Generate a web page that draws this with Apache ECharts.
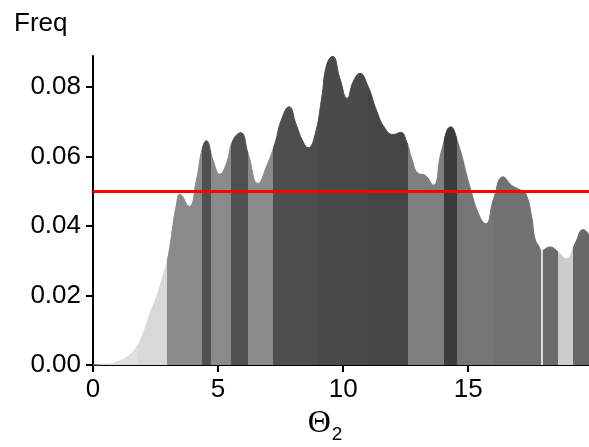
<!DOCTYPE html>
<html>
<head>
<meta charset="utf-8">
<script src="https://cdn.jsdelivr.net/npm/echarts@6/dist/echarts.min.js"></script>
<style>html,body{margin:0;padding:0;background:#fff}#c{width:589px;height:447px}</style>
</head>
<body>
<div id="c"></div>
<script>
// Density curve: theta values and frequencies
var theta = [0, 0.5, 0.9, 1.33, 1.73, 2.0, 2.27, 2.53, 2.8, 2.94, 3.07, 3.2, 3.33, 3.47, 3.84, 4.13, 4.37, 4.53, 4.8, 5.07, 5.33, 5.6, 5.91, 6.2, 6.6, 6.93, 7.27, 7.53, 7.84, 8.13, 8.4, 8.6, 8.87, 9.14, 9.34, 9.58, 9.87, 10.16, 10.4, 10.67, 11.0, 11.33, 11.67, 12.0, 12.3, 12.54, 12.74, 13.0, 13.27, 13.6, 13.94, 14.3, 14.6, 15.07, 15.47, 15.71, 16.0, 16.4, 16.73, 17.07, 17.3, 17.54, 17.67, 17.84, 17.93, 18.27, 18.53, 18.93, 19.27, 19.6, 19.83];
var freq  = [0, 0.0002, 0.0008, 0.0022, 0.0051, 0.009, 0.0147, 0.0195, 0.0258, 0.0292, 0.034, 0.0405, 0.0460, 0.0492, 0.0457, 0.0532, 0.0624, 0.0646, 0.0590, 0.0550, 0.0580, 0.0648, 0.0669, 0.0609, 0.0523, 0.0571, 0.0638, 0.0706, 0.0744, 0.0691, 0.0643, 0.0626, 0.0662, 0.0768, 0.0864, 0.0889, 0.0826, 0.0768, 0.0816, 0.0840, 0.0802, 0.0734, 0.0682, 0.0664, 0.0670, 0.0643, 0.0595, 0.0552, 0.0547, 0.0518, 0.0619, 0.0686, 0.0638, 0.0513, 0.0426, 0.0407, 0.0475, 0.0542, 0.0518, 0.0505, 0.0494, 0.0426, 0.0364, 0.0340, 0.0330, 0.0340, 0.0330, 0.0306, 0.0349, 0.0390, 0.0375];
// Shaded bands along theta: start, end, gray
var bandStart = [0, 1.8, 2.94, 4.36, 4.71, 5.53, 6.2, 7.2, 9.0, 11.0, 12.6, 14.03, 14.57, 16.0, 17.9, 17.99, 18.59, 19.2];
var bandEnd   = [1.8, 2.94, 4.36, 4.71, 5.53, 6.2, 7.2, 9.0, 11.0, 12.6, 14.03, 14.57, 16.0, 17.9, 17.99, 18.59, 19.2, 20];
var bandColor = ['#dfdfdf', '#d8d8d8', '#8a8a8a', '#505050', '#8a8a8a', '#505050', '#8a8a8a', '#4e4e4e', '#4a4a4a', '#454545', '#7f7f7f', '#3b3b3b', '#767676', '#717171', '#dddddd', '#6b6b6b', '#cdcdcd', '#686868'];
var xTicks = [0, 5, 10, 15];
var yTicks = [0, 0.02, 0.04, 0.06, 0.08];
var threshold = 0.05;

var data = theta.map(function (t, i) { return [t, freq[i]]; });
var pieces = bandStart.map(function (s, i) { return { gte: s, lt: bandEnd[i], color: bandColor[i] }; });

var chart = echarts.init(document.getElementById('c'), null, { renderer: 'canvas' });
var font = 'Liberation Sans, Arial, sans-serif';
chart.setOption({
  animation: false,
  title: {
    text: 'Freq', left: 9, top: 6,
    textStyle: { fontFamily: font, fontSize: 26, fontWeight: 'normal', color: '#000' }
  },
  grid: { left: 93, right: 0, top: 56, bottom: 82, outerBoundsMode: 'none', containLabel: false },
  visualMap: { show: false, type: 'piecewise', dimension: 0, seriesIndex: 0, pieces: pieces },
  xAxis: {
    type: 'value', min: 0, max: 19.83,
    name: '{a|Θ}{b|2}', nameLocation: 'middle', nameGap: 40,
    nameTextStyle: {
      padding: [0, 32, 0, 0],
      rich: {
        a: { fontFamily: 'Liberation Serif, Times New Roman, serif', fontSize: 32, color: '#000', lineHeight: 46, verticalAlign: 'top' },
        b: { fontFamily: font, fontSize: 19, color: '#000', lineHeight: 19, verticalAlign: 'top', padding: [17, 0, 0, 1] }
      }
    },
    axisLine: { lineStyle: { color: '#000', width: 2 } },
    axisTick: { show: true, length: 7, lineStyle: { color: '#000', width: 2 }, customValues: xTicks },
    axisLabel: { fontFamily: font, fontSize: 26, color: '#000', margin: 12, customValues: xTicks },
    splitLine: { show: false }
  },
  yAxis: {
    type: 'value', min: 0, max: 0.089,
    axisLine: { show: true, lineStyle: { color: '#000', width: 2 } },
    axisTick: { show: true, length: 7, lineStyle: { color: '#000', width: 2 }, customValues: yTicks },
    axisLabel: { fontFamily: font, fontSize: 26, color: '#000', margin: 12, customValues: yTicks,
      formatter: function (v) { return v.toFixed(2); } },
    splitLine: { show: false }
  },
  series: [{
    type: 'line',
    data: data,
    smooth: 0.5,
    smoothConstraint: false,
    showSymbol: false,
    lineStyle: { width: 1 },
    areaStyle: { opacity: 1 },
    markLine: {
      silent: true, symbol: 'none', label: { show: false },
      lineStyle: { color: '#ff0000', width: 3, type: 'solid' },
      data: [{ yAxis: threshold }]
    }
  }]
});
</script>
</body>
</html>
